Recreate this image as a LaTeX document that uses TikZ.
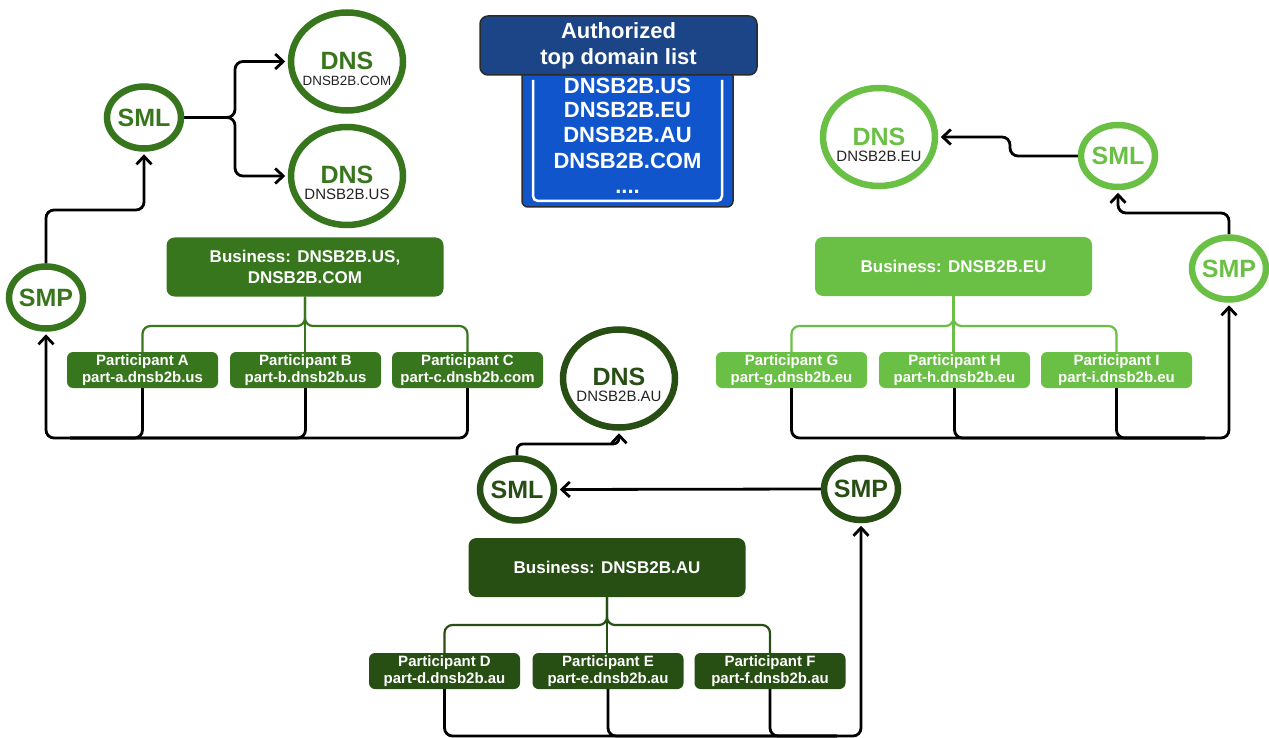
\documentclass[tikz,border=0pt]{standalone}
\usepackage{fontspec}
\setmainfont{Liberation Sans}
\usetikzlibrary{shapes.geometric,arrows.meta}
\definecolor{gA}{HTML}{38761D}
\definecolor{gB}{HTML}{6ABF45}
\definecolor{gC}{HTML}{274E13}
\definecolor{blueBody}{HTML}{1155CC}
\definecolor{blueHead}{HTML}{1C4587}
\definecolor{edgeDark}{HTML}{2B2B2B}
\definecolor{subText}{HTML}{222222}
\newcommand{\myfs}[2]{\fontsize{#1}{#2}\selectfont}
\begin{document}
\begin{tikzpicture}[x=1pt,y=-1pt,
  ring/.style={ellipse, draw=#1, line width=6.5pt, fill=white, inner sep=0pt, minimum width=74pt, minimum height=62pt},
  dnsring/.style={ellipse, draw=#1, line width=6.5pt, fill=white, inner sep=0pt, minimum width=112pt, minimum height=98pt},
  ringtext/.style={text=#1, font=\bfseries\myfs{25}{26}, inner sep=0pt},
  subtext/.style={text=subText, font=\myfs{15}{17}, inner sep=0pt},
  bizbox/.style={fill=#1, rounded corners=8pt, minimum width=277pt, minimum height=59pt, inner sep=0pt, text=white, align=center, font=\bfseries\myfs{17}{21}},
  partbox/.style={fill=#1, rounded corners=6pt, minimum width=151pt, minimum height=36pt, inner sep=0pt, text=white, align=center, font=\bfseries\myfs{15}{17}},
  tree/.style={draw=#1, line width=2.2pt, rounded corners=8pt},
  conn/.style={draw=black, line width=2.8pt, rounded corners=8pt},
  arr/.style={conn, -{Straight Barb[length=8pt,width=15pt]}, shorten >=2.5pt},
  listtext/.style={text=white, font=\bfseries\myfs{22}{26}, inner sep=0pt}
]
\useasboundingbox (0,0) rectangle (1269,738);

% ---------- authorized list ----------
\node[fill=blueBody, draw=edgeDark, line width=1.5pt, rounded corners=6pt, minimum width=211pt, minimum height=137pt, inner sep=0pt] (listbox) at (627.5,138.5) {};
\draw[white, line width=2.5pt, rounded corners=5pt] (533,80) -- (533,201) -- (722,201) -- (722,80);
\node[fill=blueHead, draw=edgeDark, line width=1.5pt, rounded corners=8pt, minimum width=277pt, minimum height=59pt, text=white, align=center, font=\bfseries\myfs{22}{26}, inner sep=0pt] (header) at (618.5,45.5) {Authorized\\top domain list};
\node[listtext] (l1) at (627.5,85.5) {DNSB2B.US};
\node[listtext] (l2) at (627.5,110) {DNSB2B.EU};
\node[listtext] (l3) at (627.5,135) {DNSB2B.AU};
\node[listtext] (l4) at (627.5,161) {DNSB2B.COM};
\node[listtext] (l5) at (627.5,192) {....};

% ---------- group A (top left) ----------
\node[ring=gA] (smlA) at (144,117.5) {};
\node[ringtext=gA] (smlAt) at (smlA) {SML};
\node[ring=gA] (smpA) at (46,297.5) {};
\node[ringtext=gA] (smpAt) at (smpA) {SMP};
\node[dnsring=gA] (dnscom) at (347,61.5) {};
\node[ringtext=gA] (dnscomt) at (347,61) {DNS};
\node[subtext, font=\myfs{13.4}{15}] (dnscoms) at (347,81) {DNSB2B.COM};
\node[dnsring=gA] (dnsus) at (347,176) {};
\node[ringtext=gA] (dnsust) at (347,175) {DNS};
\node[subtext] (dnsuss) at (347,194) {DNSB2B.US};
\node[bizbox=gA] (bizA) at (305,267) {Business: DNSB2B.US,\\DNSB2B.COM};
\node[partbox=gA] (partA) at (142.5,370) {Participant A\\part-a.dnsb2b.us};
\node[partbox=gA] (partB) at (305.5,370) {Participant B\\part-b.dnsb2b.us};
\node[partbox=gA] (partC) at (467.5,370) {Participant C\\part-c.dnsb2b.com};

\draw[tree=gA] (bizA.south) -- (305,326) -| (partA.north);
\draw[tree=gA] (bizA.south) -- (305,326) -| (partC.north);
\draw[tree=gA] (bizA.south) -- (305,352);

\draw[conn] (partA.south) |- (70,438);
\draw[conn] (partB.south) |- (70,438);
\draw[arr] (partC.south) -- (467.5,438) -- (46,438) -- (smpA.south);
\draw[arr] (smpA.north) -- (46,210) -- (144,210) -- (smlA.south);
\draw[arr] (smlA.east) -- (235,117.5) |- (dnscom.west);
\draw[arr] (smlA.east) -- (235,117.5) |- (dnsus.west);

% ---------- group B (right) ----------
\node[ring=gB] (smlB) at (1118,156) {};
\node[ringtext=gB] (smlBt) at (smlB) {SML};
\node[ring=gB] (smpB) at (1229,268.5) {};
\node[ringtext=gB] (smpBt) at (smpB) {SMP};
\node[dnsring=gB] (dnseu) at (879,137) {};
\node[ringtext=gB] (dnseut) at (879,137) {DNS};
\node[subtext] (dnseus) at (879,156) {DNSB2B.EU};
\node[bizbox=gB] (bizB) at (953.5,266.5) {Business: DNSB2B.EU};
\node[partbox=gB] (partG) at (791.5,370) {Participant G\\part-g.dnsb2b.eu};
\node[partbox=gB] (partH) at (954.5,370) {Participant H\\part-h.dnsb2b.eu};
\node[partbox=gB] (partI) at (1116.5,370) {Participant I\\part-i.dnsb2b.eu};

\draw[tree=gB] (bizB.south) -- (953.5,326) -| (partG.north);
\draw[tree=gB] (bizB.south) -- (953.5,326) -| (partI.north);
\draw[tree=gB] (bizB.south) -- (953.5,352);

\draw[conn] (partH.south) |- (1205,438);
\draw[conn] (partI.south) |- (1205,438);
\draw[arr] (partG.south) -- (791.5,438) -- (1229,438) -- (smpB.south);
\draw[arr] (smpB.north) -- (1229,213) -- (1118,213) -- (smlB.south);
\draw[arr] (smlB.west) -- (1010,156) -- (1010,137) -- (dnseu.east);

% ---------- group C (bottom) ----------
\node[ring=gC] (smlC) at (517,489.5) {};
\node[ringtext=gC] (smlCt) at (smlC) {SML};
\node[ring=gC] (smpC) at (861,489) {};
\node[ringtext=gC] (smpCt) at (smpC) {SMP};
\node[dnsring=gC] (dnsau) at (619,378.5) {};
\node[ringtext=gC] (dnsaut) at (619,377) {DNS};
\node[subtext] (dnsaus) at (619,396) {DNSB2B.AU};
\node[bizbox=gC] (bizC) at (607,567.5) {Business: DNSB2B.AU};
\node[partbox=gC] (partD) at (444.5,671) {Participant D\\part-d.dnsb2b.au};
\node[partbox=gC] (partE) at (608,671) {Participant E\\part-e.dnsb2b.au};
\node[partbox=gC] (partF) at (770,671) {Participant F\\part-f.dnsb2b.au};

\draw[tree=gC] (bizC.south) -- (607,625) -| (partD.north);
\draw[tree=gC] (bizC.south) -- (607,625) -| (partF.north);
\draw[tree=gC] (bizC.south) -- (607,653);

\draw[conn] (partE.south) |- (837,736);
\draw[conn] (partF.south) |- (837,736);
\draw[arr] (partD.south) -- (444.5,736) -- (861,736) -- (smpC.south);
\draw[arr] (smpC.west) -- (smlC.east);
\draw[arr, rounded corners=6pt] (smlC.north) -- (517,444) -- (619,444) -- (dnsau.south);

\end{tikzpicture}
\end{document}
